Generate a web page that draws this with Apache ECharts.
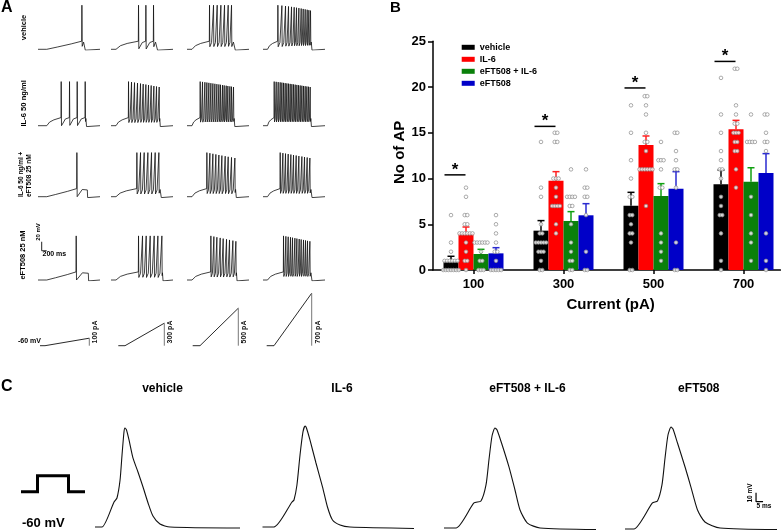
<!DOCTYPE html>
<html><head><meta charset="utf-8">
<script src="https://cdn.jsdelivr.net/npm/echarts@6/dist/echarts.min.js"></script>
<style>html,body{margin:0;padding:0;background:#fff}#c{width:781px;height:531px}</style>
</head><body><div id="c"></div>
<script>
// ===================== Panel B data =====================
const currents = [100, 300, 500, 700];
const groups = ['vehicle', 'IL-6', 'eFT508 + IL-6', 'eFT508'];
const meanVehicle = [0.98, 4.3, 7.03, 9.37];
const meanIL6 = [4.0, 9.76, 13.66, 15.38];
const meanCombo = [1.75, 5.36, 8.09, 9.65];
const meanEFT = [1.82, 5.98, 8.89, 10.6];
const semVehicle = [0.52, 1.1, 1.46, 1.56];
const semIL6 = [0.7, 0.99, 0.99, 0.98];
const semCombo = [0.51, 1.02, 1.35, 1.53];
const semEFT = [0.62, 1.27, 1.86, 2.12];
const ptsVehicle = [
  [6,3,2,1,1,1,1,1,1,0,0,0,0,0,0,0],
  [14,9,8,5,4,4,3,3,3,3,3,2,2,2,1,0,0],
  [18,15,12,10,8,8,6,6,5,4,4,3,0,0],
  [21,17,15,13,12,11,11,10,8,7,6,6,4,1,0]
];
const ptsIL6 = [
  [9,8,6,6,5,5,4,4,4,4,4,4,3,2,1,1,0],
  [15,15,14,14,10,10,10,9,8,7,7,7,7,5,4],
  [19,19,18,17,15,14,14,13,11,11,11,11,11,11,7],
  [22,22,18,17,16,16,15,15,15,14,14,13,13,11,9]
];
const ptsCombo = [
  [3,3,3,3,3,3,2,1,1,0,0,0],
  [11,8,8,8,8,7,7,5,3,2,1,1,0,0],
  [14,12,12,12,11,9,9,4,3,2,1],
  [17,14,14,14,14,8,6,4,3,1]
];
const ptsEFT = [
  [6,5,4,3,2,2,1,0,0,0,0,0],
  [11,9,9,8,8,6,2,0,0],
  [15,15,13,12,11,11,9,3,0,0],
  [17,17,15,14,14,13,4,1,0]
];
const sigLevel = [10.4, 15.7, 19.9, 22.8];

// ===================== Panel A data (spike times, ms) =====================
const rowLabelsA = ['vehicle', 'IL-6 50 ng/ml', 'IL-6 50 ng/ml +|eFT508 25 nM', 'eFT508 25 nM'];
const spikesVehicle = [
  [1748],
  [1093, 1387, 1693],
  [893, 1053, 1200, 1347, 1493, 1640, 1773],
  [587, 747, 893, 1013, 1133, 1240, 1333, 1427, 1520, 1600, 1680, 1760, 1827, 1893]
];
const spikesIL6 = [
  [920, 1253, 1560, 1880],
  [693, 813, 933, 1053, 1173, 1280, 1387, 1493, 1600, 1707, 1813, 1920],
  [520, 613, 707, 787, 867, 947, 1027, 1107, 1187, 1267, 1333, 1413, 1480, 1560, 1627, 1707, 1773, 1853],
  [440, 520, 600, 680, 747, 813, 880, 947, 1013, 1080, 1147, 1213, 1280, 1347, 1413, 1480, 1547, 1613, 1680, 1747, 1813, 1880]
];
const spikesCombo = [
  [1547],
  [1027, 1173, 1320, 1467, 1613, 1760, 1907],
  [787, 907, 1027, 1147, 1267, 1387, 1520, 1640, 1773, 1907],
  [680, 787, 893, 1000, 1107, 1213, 1320, 1427, 1547, 1653, 1760, 1867]
];
const spikesEFT = [
  [1520],
  [1093, 1253, 1400, 1560, 1720, 1867, 2027],
  [947, 1067, 1187, 1320, 1440, 1573, 1693, 1827, 1947],
  [813, 907, 1000, 1093, 1173, 1267, 1347, 1440, 1520, 1613, 1693, 1773, 1867]
];
const offVehicle = [1880, 1850, 1920, 1948];
const offIL6 = [1930, 1960, 1900, 1925];
const offCombo = [1973, 2000, 1960, 1948];
const offEFT = [2013, 2070, 1990, 1948];
const onsetA = [350, 200, 200, 180];
const stimAmp = [100, 300, 500, 700];
const stimLabels = ['100 pA', '300 pA', '500 pA', '700 pA'];
const stimStart = [80, 292, 228, 148];
const stimRampStart = [280, 560, 520, 440];
const stimRampEnd = [2052, 2132, 2052, 1948];

// ===================== Panel C data (ms, mV) =====================
const titlesC = ['vehicle', 'IL-6', 'eFT508 + IL-6', 'eFT508'];
const apVehicle = [[0,-60],[5,-60],[13.6,-32.2],[15.7,-27.8],[17.9,-7.8],[19.3,20],[20.7,45.6],[21.4,50],[22.5,47.8],[24.3,36.7],[27.1,16.7],[30.7,1.1],[34.3,-15.6],[37.9,-33.3],[41.4,-47.8],[46.4,-56.7],[53.6,-60],[103.6,-61.1]];
const apIL6 = [[0,-60],[8.2,-60],[21.1,-32.2],[22.5,-30],[24.6,-13.3],[26.8,20],[28.9,45.6],[30.4,52.2],[31.4,50],[33.9,36.7],[38.2,11.1],[42.9,-15.6],[46.4,-37.8],[50,-52.2],[55.4,-57.8],[62.5,-60],[112.5,-61.7]];
const apCombo = [[0,-61.1],[8.6,-61.1],[21.4,-33.3],[26.4,-31.1],[30,-13.3],[32.1,14.4],[34.3,41.1],[36.4,50],[37.9,47.8],[41.1,33.3],[46.4,6.7],[50.7,-18.9],[54.3,-41.1],[59.6,-55.6],[68.6,-61.1],[111.4,-62.8]];
const apEFT = [[0,-62.2],[6.4,-62.2],[19.6,-33.3],[23.2,-31.1],[26.4,-13.3],[28.6,16.7],[30.7,42.2],[32.9,51.1],[34.3,48.9],[37.5,33.3],[42.9,6.7],[47.1,-15.6],[51.8,-41.1],[57.1,-54.4],[67.9,-61.1],[110.7,-62.8]];

// ===================== build =====================
const FONT = '"Liberation Sans", Arial, Helvetica, sans-serif';
const colorsB = ['#000000', '#ff0000', '#0a800a', '#0000c8'];
const errColors = ['#000000', '#ff2020', '#10a010', '#2a2ad0'];
const means = [meanVehicle, meanIL6, meanCombo, meanEFT];
const sems = [semVehicle, semIL6, semCombo, semEFT];
const pts = [ptsVehicle, ptsIL6, ptsCombo, ptsEFT];

const grids = [], xAxes = [], yAxes = [], series = [], graphics = [];
function hiddenAxes(gi, xmin, xmax, ymin, ymax) {
  xAxes.push({gridIndex: gi, type: 'value', min: xmin, max: xmax, show: false});
  yAxes.push({gridIndex: gi, type: 'value', min: ymin, max: ymax, show: false});
}
function lineSeries(gi, data, color, width, smooth) {
  const s = {type: 'line', xAxisIndex: gi, yAxisIndex: gi, data, showSymbol: false, symbol: 'none',
    lineStyle: {color, width}, silent: true, z: 2, animation: false};
  if (smooth) { s.smooth = smooth; }
  series.push(s);
}

// ---- Panel B ----
const gB = {left: 433, top: 41.3, width: 347.4, height: 228.7};
const xMinB = 10, xMaxB = 782;
const unitsPerPx = (xMaxB - xMinB) / gB.width;
const barW = 15;
const barOffsetPx = [-22.5, -7.5, 7.5, 22.5];
grids.push({left: gB.left, top: gB.top, width: gB.width, height: gB.height, containLabel: false, outerBoundsMode: 'none'});
xAxes.push({gridIndex: 0, type: 'value', min: xMinB, max: xMaxB,
  axisLine: {show: true, onZero: false, lineStyle: {color: '#000', width: 1.5}},
  axisTick: {show: true, customValues: currents, length: 4, lineStyle: {color: '#000', width: 1.5}},
  axisLabel: {show: true, customValues: currents, color: '#000', fontWeight: 'bold', fontSize: 13, fontFamily: FONT, margin: 8},
  splitLine: {show: false}});
yAxes.push({gridIndex: 0, type: 'value', min: 0, max: 25, interval: 5,
  axisLine: {show: true, lineStyle: {color: '#000', width: 1.5}},
  axisTick: {show: true, length: 5, lineStyle: {color: '#000', width: 1.5}},
  axisLabel: {color: '#000', fontWeight: 'bold', fontSize: 13, fontFamily: FONT, margin: 7},
  splitLine: {show: false}});
groups.forEach((g, i) => {
  series.push({type: 'bar', name: g, xAxisIndex: 0, yAxisIndex: 0,
    data: currents.map((c, k) => [c, means[i][k]]),
    barWidth: barW, barGap: '0%', itemStyle: {color: colorsB[i]}, z: 2, silent: true});
});
const errData = [];
groups.forEach((g, i) => currents.forEach((c, k) => errData.push([c + barOffsetPx[i] * unitsPerPx, means[i][k], means[i][k] + sems[i][k], i])));
series.push({type: 'custom', xAxisIndex: 0, yAxisIndex: 0, data: errData, z: 3, silent: true,
  renderItem: (params, api) => {
    const b = api.coord([api.value(0), api.value(1)]);
    const t = api.coord([api.value(0), api.value(2)]);
    const col = errColors[api.value(3)];
    return {type: 'group', children: [
      {type: 'line', shape: {x1: b[0], y1: b[1], x2: t[0], y2: t[1]}, style: {stroke: col, lineWidth: 1.5}},
      {type: 'line', shape: {x1: t[0] - 3.5, y1: t[1], x2: t[0] + 3.5, y2: t[1]}, style: {stroke: col, lineWidth: 1.5}}
    ]};
  }});
groups.forEach((g, i) => {
  const data = [];
  currents.forEach((c, k) => {
    const counts = {};
    pts[i][k].forEach(v => counts[v] = (counts[v] || 0) + 1);
    Object.keys(counts).forEach(v => {
      const n = counts[v];
      for (let j = 0; j < n; j++) {
        const off = barOffsetPx[i] + (j - (n - 1) / 2) * 2.6;
        data.push([c + off * unitsPerPx, +v]);
      }
    });
  });
  series.push({type: 'scatter', xAxisIndex: 0, yAxisIndex: 0, data, symbol: 'circle', symbolSize: 3.6,
    itemStyle: {color: '#ffffff', borderColor: '#8c8c8c', borderWidth: 0.9}, z: 4, silent: true});
});
series.push({type: 'custom', xAxisIndex: 0, yAxisIndex: 0, data: currents.map((c, k) => [c, sigLevel[k]]), z: 5, silent: true,
  renderItem: (params, api) => {
    const p = api.coord([api.value(0), api.value(1)]);
    const x1 = p[0] - 29, x2 = p[0] - 8;
    return {type: 'group', children: [
      {type: 'line', shape: {x1, y1: p[1], x2, y2: p[1]}, style: {stroke: '#000', lineWidth: 1.5}},
      {type: 'text', x: (x1 + x2) / 2, y: p[1] - 5, style: {text: '*', font: 'bold 17px ' + FONT, fill: '#000', align: 'center', verticalAlign: 'middle', textAlign: 'center', textVerticalAlign: 'middle'}}
    ]};
  }});

// ---- Panel A ----
const colLeftA = [38, 111, 187, 263];
const rowBaseA = [49.3, 125.7, 196.7, 280];
const cellMs = 2480, pxPerMs = 0.025, pxPerMvA = 0.45;
function buildTrace(spikes, on, off) {
  const p = [[0, -60], [on, -60]];
  const n = spikes.length, first = spikes[0], rise = first - on;
  if (n === 1) p.push([on + rise * 0.3, -55], [on + rise * 0.7, -48]);
  else p.push([on + rise * 0.2, -52], [on + rise * 0.5, -47]);
  spikes.forEach((s, i) => {
    const next = i < n - 1 ? spikes[i + 1] : off;
    const isi = next - s;
    const peak = n > 8 ? 38 - 12 * i / (n - 1) : 38;
    const trough = -49 - Math.min(11, isi / 30);
    p.push([s, -42], [s + 8, peak], [s + 20, trough]);
    if (i < n - 1) p.push([s + 20 + (isi - 20) * 0.5, -45]);
  });
  const last = spikes[n - 1];
  p.push([last + 20 + (off - last - 20) * 0.5, -44], [off, -45], [off + 12, -62], [off + 60, -60], [cellMs, -60]);
  return p;
}
const spikeRows = [spikesVehicle, spikesIL6, spikesCombo, spikesEFT];
const offRows = [offVehicle, offIL6, offCombo, offEFT];
let gi = 1;
let scaleGridA = -1;
spikeRows.forEach((row, r) => {
  row.forEach((spk, c) => {
    grids.push({left: colLeftA[c], top: rowBaseA[r] - 100 * pxPerMvA, width: cellMs * pxPerMs, height: 102 * pxPerMvA, outerBoundsMode: 'none'});
    hiddenAxes(gi, 0, cellMs, -62, 40);
    lineSeries(gi, buildTrace(spk, onsetA[c], offRows[r][c]), '#111', 0.8);
    if (r === 3 && c === 0) scaleGridA = gi;
    gi++;
  });
});
// scale bar (20 mV / 200 ms) in eFT508 100 pA cell
lineSeries(scaleGridA, [[148, 25], [148, 5], [348, 5]], '#222', 1);
// stimulus row
const stimBase = 345.7, pxPerPa = 0.075;
for (let c = 0; c < 4; c++) {
  grids.push({left: colLeftA[c], top: stimBase - 720 * pxPerPa, width: cellMs * pxPerMs, height: 730 * pxPerPa, outerBoundsMode: 'none'});
  hiddenAxes(gi, 0, cellMs, -10, 720);
  lineSeries(gi, [[stimStart[c], 0], [stimRampStart[c], 0], [stimRampEnd[c], stimAmp[c]]], '#111', 0.9);
  lineSeries(gi, [[stimRampEnd[c], stimAmp[c]], [stimRampEnd[c], 0]], '#777', 1);
  graphics.push({type: 'text', x: colLeftA[c] + stimRampEnd[c] * pxPerMs + 6, y: 343.5, rotation: Math.PI / 2,
    style: {text: stimLabels[c], font: 'bold 7px ' + FONT, fill: '#111', align: 'left', verticalAlign: 'middle', textAlign: 'left', textVerticalAlign: 'middle'}});
  gi++;
}

// ---- Panel C ----
const leftC = [95, 262.5, 444, 625];
const baseC = 527, pxPerMvC = 0.9, pxPerMsC = 1.4, widthC = 150;
const aps = [apVehicle, apIL6, apCombo, apEFT];
let lastGridC = -1;
aps.forEach((ap, k) => {
  grids.push({left: leftC[k], top: baseC - 120 * pxPerMvC, width: widthC, height: 125 * pxPerMvC, outerBoundsMode: 'none'});
  hiddenAxes(gi, 0, widthC / pxPerMsC, -65, 60);
  lineSeries(gi, ap, '#111', 1.1, 0.22);
  lastGridC = gi;
  gi++;
});
lineSeries(lastGridC, [[93.6, -21.9], [93.6, -31.9], [98.6, -31.9]], '#000', 1.2);

// ---- texts ----
function txt(text, x, y, font, opts) {
  opts = opts || {};
  const align = opts.align || 'center';
  graphics.push({type: 'text', x, y, rotation: opts.rot || 0,
    style: {text, font: font + ' ' + FONT, fill: opts.fill || '#000', align, verticalAlign: 'middle', textAlign: align, textVerticalAlign: 'middle'}});
}
const R = Math.PI / 2;
txt('A', 1, 8, 'bold 16px', {align: 'left'});
txt('B', 390, 8, 'bold 15px', {align: 'left'});
txt('C', 1, 387, 'bold 16px', {align: 'left'});
txt(rowLabelsA[0], 24, 27.5, 'bold 7.5px', {rot: R});
txt(rowLabelsA[1], 24, 103.3, 'bold 7.6px', {rot: R});
txt(rowLabelsA[2].split('|')[0], 21, 197, 'bold 6.5px', {rot: R, align: 'left'});
txt(rowLabelsA[2].split('|')[1], 29, 197, 'bold 6.5px', {rot: R, align: 'left'});
txt(rowLabelsA[3], 22.5, 255, 'bold 7.5px', {rot: R});
txt('20 mV', 38, 232, 'bold 6px', {rot: R});
txt('200 ms', 42.5, 254.5, 'bold 7px', {align: 'left'});
txt('-60 mV', 18, 341, 'bold 7px', {align: 'left'});
txt('No of AP', 399.7, 152.3, 'bold 15px', {rot: R});
txt('Current (pA)', 610.7, 305, 'bold 15px');
const titleXC = [162.5, 342, 527.5, 698.8];
titlesC.forEach((t, k) => txt(t, titleXC[k], 389, 'bold 12px'));
txt('-60 mV', 22, 523, 'bold 13px', {align: 'left'});
txt('10 mV', 750, 493, 'bold 6.5px', {rot: R});
txt('5 ms', 756.5, 506, 'bold 6.5px', {align: 'left'});
graphics.push({type: 'polyline', shape: {points: [[21, 491.7], [37.5, 491.7], [37.5, 475.7], [68.5, 475.7], [68.5, 491.7], [85, 491.7]]},
  style: {stroke: '#000', lineWidth: 3, fill: null}});

const chart = echarts.init(document.getElementById('c'), null, {renderer: 'canvas'});
chart.setOption({
  animation: false,
  backgroundColor: '#ffffff',
  textStyle: {fontFamily: FONT},
  grid: grids,
  xAxis: xAxes,
  yAxis: yAxes,
  legend: {data: groups, orient: 'vertical', left: 461.7, top: 41.8, itemWidth: 13, itemHeight: 5, itemGap: 1,
    icon: 'rect', selectedMode: false, padding: 0,
    textStyle: {fontSize: 9, fontWeight: 'bold', color: '#000', fontFamily: FONT, lineHeight: 11}},
  series,
  graphic: graphics
});
</script></body></html>
